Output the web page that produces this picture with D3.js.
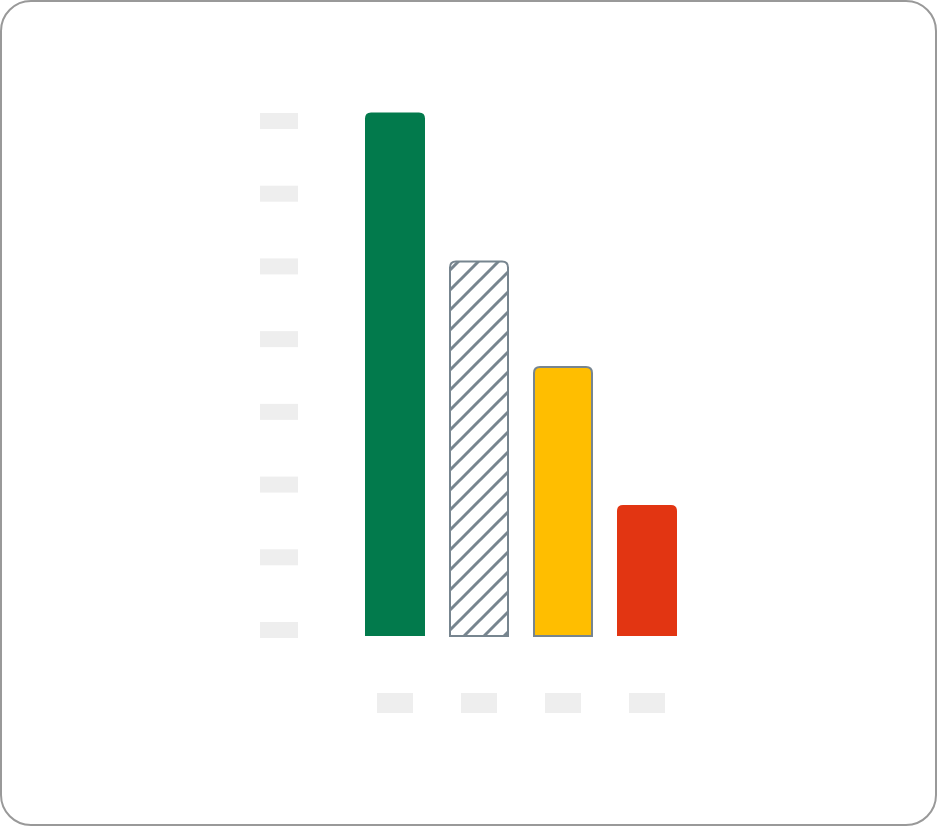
<!DOCTYPE html>
<html lang="en">
<head>
    <meta charset="UTF-8">
    <title>Bar chart</title>
    <script src="https://d3js.org/d3.v7.min.js"></script>
    <style>
        html, body { margin: 0; padding: 0; background: #fff; }
        svg { display: block; }
    </style>
</head>
<body>
    <svg width="937" height="826"></svg>
    <script>
        // data
        const categories = ["A", "B", "C", "D"];
        const values = [7.2, 5.15, 3.7, 1.8];
        const yTicks = [0, 1, 2, 3, 4, 5, 6, 7];
        const fills = ["#027a4c", "url(#hatch)", "#ffbe00", "#e23512"];
        const outlined = [false, true, true, false];

        const svg = d3.select("svg");
        const width = +svg.attr("width");
        const height = +svg.attr("height");

        // card border
        svg.append("rect")
            .attr("x", 1).attr("y", 1)
            .attr("width", width - 2).attr("height", height - 2)
            .attr("rx", 30)
            .attr("fill", "#fff")
            .attr("stroke", "#999")
            .attr("stroke-width", 2);

        // hatch pattern
        const defs = svg.append("defs");
        const pat = defs.append("pattern")
            .attr("id", "hatch")
            .attr("patternUnits", "userSpaceOnUse")
            .attr("width", 20).attr("height", 20);
        pat.append("rect").attr("width", 20).attr("height", 20).attr("fill", "#fff");
        pat.append("path")
            .attr("d", "M0,20 L20,0 M-5,5 L5,-5 M15,25 L25,15")
            .attr("stroke", "#77858f")
            .attr("stroke-width", 3);

        const x = d3.scaleBand()
            .domain(categories)
            .range([353, 689])
            .paddingInner(24 / 84)
            .paddingOuter(12 / 84);

        const y = d3.scaleLinear()
            .domain([0, 7])
            .range([636, 127]);

        // y tick label placeholders
        svg.append("g").selectAll("rect")
            .data(yTicks)
            .join("rect")
            .attr("x", 260)
            .attr("y", d => y(d) - 14)
            .attr("width", 38)
            .attr("height", 16)
            .attr("fill", "#eeeeee");

        // x label placeholders
        svg.append("g").selectAll("rect")
            .data(categories)
            .join("rect")
            .attr("x", d => x(d) + x.bandwidth() / 2 - 18)
            .attr("y", 693)
            .attr("width", 36)
            .attr("height", 20)
            .attr("fill", "#eeeeee");

        // bar with rounded top corners
        function topRounded(x0, y0, w, h, r) {
            return `M${x0},${y0 + h} V${y0 + r} Q${x0},${y0} ${x0 + r},${y0} ` +
                `H${x0 + w - r} Q${x0 + w},${y0} ${x0 + w},${y0 + r} V${y0 + h} Z`;
        }

        svg.append("g").selectAll("path")
            .data(values)
            .join("path")
            .attr("d", (d, i) => {
                const inset = outlined[i] ? 1 : 0;
                const bx = x(categories[i]) + inset;
                const bw = x.bandwidth() - inset * 2;
                const top = y(d);
                return topRounded(bx, top, bw, y(0) - top, 6);
            })
            .attr("fill", (d, i) => fills[i])
            .attr("stroke", (d, i) => outlined[i] ? "#77858f" : "none")
            .attr("stroke-width", 2);
    </script>
</body>
</html>
